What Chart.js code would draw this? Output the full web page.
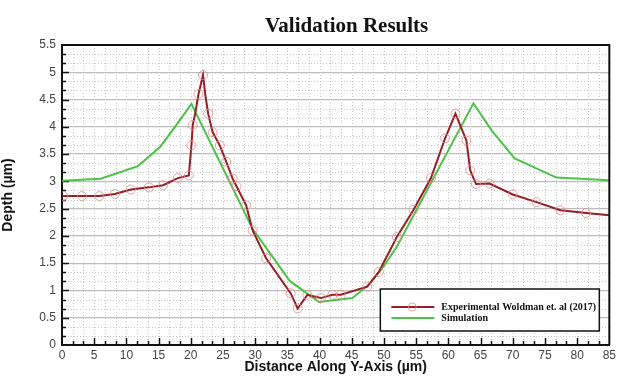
<!DOCTYPE html>
<html>
<head>
<meta charset="utf-8">
<script src="https://cdn.jsdelivr.net/npm/chart.js@4"></script>
<style>
  html, body { margin: 0; padding: 0; background: #fff; }
  #wrap { width: 619px; height: 378px; }
</style>
</head>
<body>
<div id="wrap"><canvas id="chart"></canvas></div>
<script>
// Validation results: measured trench profile vs simulation

const xTicks = [0, 5, 10, 15, 20, 25, 30, 35, 40, 45, 50, 55, 60, 65, 70, 75, 80, 85]
const yTicks = [0, 0.5, 1, 1.5, 2, 2.5, 3, 3.5, 4, 4.5, 5, 5.5]

const expX = [0, 0.2, 3.1, 5.8, 8.2, 10.7, 13.5, 15.7, 18.0, 19.7, 20.1, 20.3, 20.7, 21.2, 21.9,
  22.3, 22.7, 23.4, 24.5, 25.5, 26.5, 27.1, 28.6, 29.6, 31.7, 35.5, 36.6, 38.1, 40.2, 42.0,
  43.3, 47.4, 49.2, 52.0, 54.6, 57.3, 59.5, 61.1, 62.8, 63.4, 64.3, 66.4, 70.0, 73.7, 77.4,
  81.4, 85]
const expY = [2.73, 2.73, 2.73, 2.73, 2.77, 2.85, 2.89, 2.93, 3.06, 3.11, 3.66, 4.03, 4.25, 4.6, 4.95,
  4.55, 4.24, 3.9, 3.66, 3.36, 3.05, 2.91, 2.56, 2.1, 1.59, 0.95, 0.67, 0.92, 0.86, 0.92,
  0.92, 1.07, 1.34, 1.98, 2.48, 3.06, 3.79, 4.24, 3.75, 3.2, 2.95, 2.96, 2.76, 2.62, 2.47,
  2.42, 2.38]
// which experimental vertices carry a circle marker
const expMarked = [0, 1, 1, 1, 1, 1, 1, 1, 1, 1, 1, 1, 0, 1, 1,
  0, 1, 1, 1, 1, 1, 1, 1, 1, 1, 1, 1, 1, 1, 1,
  1, 1, 1, 1, 1, 1, 1, 1, 1, 1, 1, 1, 1, 1, 1,
  1, 0]

const simX = [0, 6.0, 11.8, 15.3, 17.8, 20.1, 25.9, 29.6, 35.4, 39.9, 45.1, 47.8, 50.0, 52.0,
  63.9, 66.8, 70.3, 76.8, 85]
const simY = [3.01, 3.05, 3.28, 3.64, 4.04, 4.42, 3.02, 2.13, 1.17, 0.79, 0.86, 1.12, 1.45, 1.8,
  4.43, 3.92, 3.42, 3.07, 3.02]

const TITLE = "Validation Results"
const SANS = "'Liberation Sans', Arial, sans-serif"
const SERIF = "'Liberation Serif', 'Times New Roman', serif"

const frameAndGrid = {
  id: "frameAndGrid",
  beforeDatasetsDraw(chart) {
    const { ctx, chartArea: a, scales } = chart
    const xs = scales.x, ys = scales.y
    ctx.save()
    ctx.strokeStyle = "#cacaca"
    ctx.lineWidth = 1
    ctx.setLineDash([1, 2])
    for (let i = 1; i < 51; i++) {
      const px = Math.round(xs.getPixelForValue(i * 5 / 3)) + 0.5
      ctx.beginPath(); ctx.moveTo(px, a.top); ctx.lineTo(px, a.bottom); ctx.stroke()
    }
    for (let i = 1; i < 33; i++) {
      if (i % 3 === 0) continue
      const py = Math.round(ys.getPixelForValue(i / 6)) + 0.5
      ctx.beginPath(); ctx.moveTo(a.left, py); ctx.lineTo(a.right, py); ctx.stroke()
    }
    ctx.setLineDash([])
    // inward tick marks
    ctx.strokeStyle = "#111"
    ctx.lineWidth = 1.5
    for (let i = 1; i < 51; i++) {
      const px = Math.round(xs.getPixelForValue(i * 5 / 3)) + 0.5
      const len = i % 3 === 0 ? 7 : 4
      ctx.beginPath(); ctx.moveTo(px, a.bottom); ctx.lineTo(px, a.bottom - len); ctx.stroke()
    }
    for (let i = 1; i < 33; i++) {
      const py = Math.round(ys.getPixelForValue(i / 6)) + 0.5
      const len = i % 3 === 0 ? 7 : 4
      ctx.beginPath(); ctx.moveTo(a.left, py); ctx.lineTo(a.left + len, py); ctx.stroke()
    }
    ctx.restore()
  },
  afterDatasetsDraw(chart) {
    const { ctx, chartArea: a } = chart
    ctx.save()
    ctx.strokeStyle = "#111"
    ctx.lineWidth = 2
    ctx.beginPath()
    ctx.moveTo(a.left, a.top); ctx.lineTo(a.right, a.top); ctx.lineTo(a.right, a.bottom)
    ctx.stroke()

    // title, sitting a little right of the plot centre
    ctx.fillStyle = "#111"
    ctx.font = "bold 21px " + SERIF
    ctx.textAlign = "center"
    ctx.textBaseline = "alphabetic"
    ctx.fillText(TITLE, (a.left + a.right) / 2 + 11, a.top - 13)

    // legend box in the lower right corner
    const bx = a.right - 229, by = a.bottom - 56, bw = 219, bh = 42
    ctx.fillStyle = "#fff"
    ctx.fillRect(bx, by, bw, bh)
    ctx.lineWidth = 1.5
    ctx.strokeRect(bx, by, bw, bh)
    ctx.textAlign = "left"
    chart.data.datasets.forEach((ds, i) => {
      const y = by + 18 + i * 11
      ctx.strokeStyle = ds.borderColor
      ctx.lineWidth = 2
      ctx.beginPath(); ctx.moveTo(bx + 11, y); ctx.lineTo(bx + 54, y); ctx.stroke()
      if (i === 0) {
        ctx.strokeStyle = ds.pointBorderColor
        ctx.lineWidth = 1
        ctx.beginPath(); ctx.arc(bx + 32, y, 4, 0, Math.PI * 2); ctx.stroke()
      }
      ctx.fillStyle = "#111"
      ctx.font = "bold 10px " + SERIF
      ctx.textBaseline = "middle"
      ctx.fillText(ds.label, bx + 61, y)
    })
    ctx.restore()
  },
}

const ctx = document.getElementById("chart").getContext("2d")
new Chart(ctx, {
  type: "line",
  data: {
    datasets: [
      {
        label: "Experimental Woldman et. al (2017)",
        data: expX.map((x, i) => ({ x, y: expY[i] })),
        borderColor: "#951f26",
        borderWidth: 2,
        pointRadius: expMarked.map((m) => (m ? 4.5 : 0)),
        pointBorderColor: "rgba(228,140,140,0.8)",
        pointBackgroundColor: "rgba(0,0,0,0)",
        pointBorderWidth: 1,
        tension: 0,
      },
      {
        label: "Simulation",
        data: simX.map((x, i) => ({ x, y: simY[i] })),
        borderColor: "#4cc247",
        borderWidth: 2,
        pointRadius: 0,
        tension: 0,
      },
    ],
  },
  options: {
    responsive: true,
    maintainAspectRatio: false,
    animation: false,
    layout: { padding: { right: 7, left: 0, top: 45, bottom: 0 } },
    scales: {
      x: {
        type: "linear",
        min: 0,
        max: 85,
        afterBuildTicks: (s) => { s.ticks = xTicks.map((v) => ({ value: v })) },
        afterFit: (s) => { s.height = 33 },
        grid: { display: false, drawTicks: false },
        border: { display: true, color: "#111", width: 2 },
        ticks: { color: "#444", font: { family: SANS, size: 12 }, padding: 3, maxRotation: 0 },
        title: {
          display: true,
          text: "Distance Along Y-Axis (µm)",
          color: "#111",
          font: { family: SANS, size: 14, weight: "bold" },
          padding: { top: 0, bottom: 2 },
        },
      },
      y: {
        type: "linear",
        min: 0,
        max: 5.5,
        afterBuildTicks: (s) => { s.ticks = yTicks.map((v) => ({ value: v })) },
        afterFit: (s) => { s.width = 62 },
        grid: { color: "#bdbdbd", lineWidth: 1.2, drawTicks: false },
        border: { display: true, color: "#111", width: 2 },
        ticks: {
          color: "#444",
          font: { family: SANS, size: 12 },
          padding: 6,
          callback: (v) => String(v),
        },
        title: {
          display: true,
          text: "Depth (µm)",
          color: "#111",
          font: { family: SANS, size: 14, weight: "bold" },
          padding: { top: 0, bottom: 2 },
        },
      },
    },
    plugins: {
      legend: { display: false },
      tooltip: { enabled: false },
      title: { display: false },
    },
  },
  plugins: [frameAndGrid],
})
</script>
</body>
</html>
